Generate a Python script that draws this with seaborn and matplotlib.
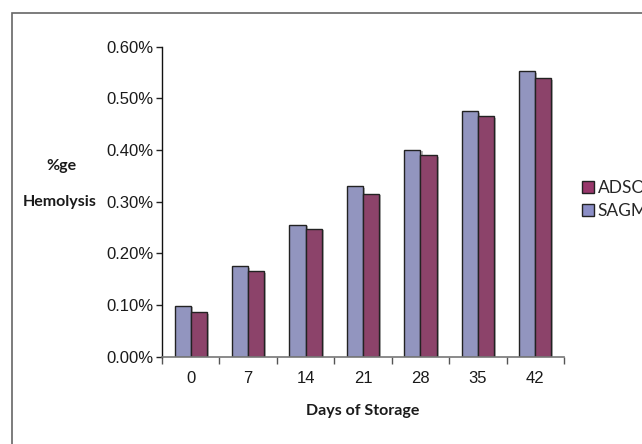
import matplotlib
matplotlib.use("Agg")
import matplotlib.pyplot as plt
import matplotlib.patheffects as pe
from matplotlib.patches import Patch, Rectangle
from matplotlib.ticker import FuncFormatter, FixedLocator
import seaborn as sns
import pandas as pd

days = ["0", "7", "14", "21", "28", "35", "42"]
sagm = [0.0985, 0.175, 0.255, 0.330, 0.400, 0.475, 0.552]
adsol = [0.086, 0.165, 0.247, 0.315, 0.390, 0.465, 0.539]
series = ["SAGM", "ADSOL"]
colors = {"SAGM": "#8B8EC6", "ADSOL": "#98376B"}
yticks = [0.0, 0.1, 0.2, 0.3, 0.4, 0.5, 0.6]

df = pd.DataFrame({
    "day": days * 2,
    "value": sagm + adsol,
    "series": ["SAGM"] * len(days) + ["ADSOL"] * len(days),
})

sns.set_style("white")
plt.rcParams["font.family"] = ["Liberation Sans", "DejaVu Sans"]

fig = plt.figure(figsize=(6.42, 4.44), dpi=100)
ax = fig.add_axes([162 / 642, 1 - 356.7 / 444, (564 - 162) / 642, (356.7 - 46.7) / 444])

sns.barplot(data=df, x="day", y="value", hue="series", order=days,
            hue_order=series, palette=colors, width=0.56, gap=0,
            edgecolor="#222222", linewidth=1.0, ax=ax, legend=False)

for p in ax.patches:
    p.set_path_effects([pe.SimplePatchShadow(offset=(1.5, -1.0), shadow_rgbFace="#888888", alpha=0.6), pe.Normal()])

ax.set_ylim(0, 0.6)
ax.set_xlim(-0.5, len(days) - 0.5)
ax.set_yticks(yticks)
ax.yaxis.set_major_formatter(FuncFormatter(lambda v, _: f"{v:.2f}%"))
ax.tick_params(axis="y", labelsize=12, length=4, width=1, color="#222222", left=True, pad=2, labelcolor="#1a1a1a")
ax.tick_params(axis="x", which="major", length=0, labelsize=12, pad=10, labelcolor="#1a1a1a")
ax.xaxis.set_minor_locator(FixedLocator([i + 0.5 for i in range(-1, len(days))]))
ax.tick_params(axis="x", which="minor", length=5, width=1, color="#555555", bottom=True)

for s in ["top", "right"]:
    ax.spines[s].set_visible(False)
ax.spines["left"].set_color("#111111")
ax.spines["left"].set_linewidth(1.0)
ax.spines["bottom"].set_color("#777777")
ax.spines["bottom"].set_linewidth(1.2)

ax.set_xlabel("")
ax.set_ylabel("")
fig.text(363 / 642, 1 - 411 / 444, "Days of Storage", ha="center", va="center",
         fontsize=11.5, fontweight="bold", family=["Lato", "DejaVu Sans"], color="#1a1a1a")
fig.text(61 / 642, 1 - 166 / 444, "%ge", ha="center", va="center",
         fontsize=11.5, fontweight="bold", family=["Lato", "DejaVu Sans"], color="#1a1a1a")
fig.text(60 / 642, 1 - 202 / 444, "Hemolysis", ha="center", va="center",
         fontsize=11.5, fontweight="bold", family=["Lato", "DejaVu Sans"], color="#1a1a1a")

handles = [Patch(facecolor=colors["ADSOL"], edgecolor="#222222", label="ADSOL"),
           Patch(facecolor=colors["SAGM"], edgecolor="#222222", label="SAGM")]
fig.legend(handles=handles, loc="upper left", bbox_to_anchor=(582 / 642, 1 - 180 / 444),
           frameon=False, prop={"family": ["Lato", "DejaVu Sans"], "size": 12.5},
           handlelength=0.7, handleheight=0.7,
           handletextpad=0.2, labelspacing=0.4, borderaxespad=0, borderpad=0)

fig.patches.append(Rectangle((12 / 642, -0.1), 1.2, 1 - 13 / 444 + 0.1, transform=fig.transFigure,
                             fill=False, edgecolor="#666666", linewidth=1.2))

fig.savefig("out.png", dpi=100)
